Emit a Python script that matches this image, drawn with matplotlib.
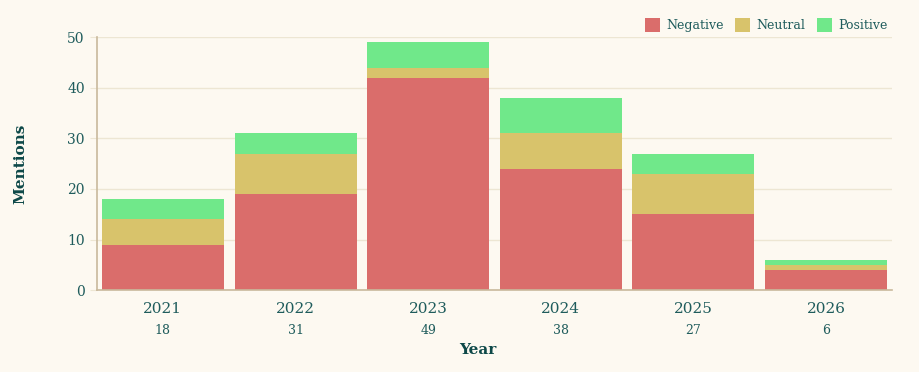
import matplotlib.pyplot as plt
import numpy as np

# Data
years = ['2021', '2022', '2023', '2024', '2025', '2026']
negative = [9, 19, 42, 24, 15, 4]
neutral = [5, 8, 2, 7, 8, 1]
positive = [4, 4, 5, 7, 4, 1]

bg = '#fdf9f1'
text_col = '#1f5c5c'
label_col = '#0d4848'
colors = ['#da6d6b', '#d8c36b', '#70e88a']

plt.rcParams['font.family'] = 'DejaVu Serif'

fig = plt.figure(figsize=(9.2, 3.72), dpi=100, facecolor=bg)
ax = fig.add_axes([0.105, 0.22, 0.865, 0.68], facecolor=bg)

x = np.arange(len(years))
neg = np.array(negative)
neu = np.array(neutral)
pos = np.array(positive)
totals = neg + neu + pos

width = 0.92
ax.bar(x, neg, width, color=colors[0], label='Negative', zorder=2)
ax.bar(x, neu, width, bottom=neg, color=colors[1], label='Neutral', zorder=2)
ax.bar(x, pos, width, bottom=neg + neu, color=colors[2], label='Positive', zorder=2)

ax.set_xlim(-0.5, len(years) - 0.5)
ax.set_ylim(0, 50)
ax.set_yticks(range(0, 51, 10))
ax.grid(axis='y', color='#ede6d3', linewidth=1, zorder=0)

for side in ['top', 'right']:
    ax.spines[side].set_visible(False)
for side in ['left', 'bottom']:
    ax.spines[side].set_color('#c9b99c')
    ax.spines[side].set_linewidth(1.2)

ax.tick_params(axis='y', colors=text_col, labelsize=10, length=5, color='#ede6d3')
ax.tick_params(axis='x', length=0, labelbottom=False)

# year labels and totals under each bar
for i, (yr, t) in enumerate(zip(years, totals)):
    ax.annotate(yr, (i, 0), xycoords=('data', 'axes fraction'), xytext=(0, -8.5),
                textcoords='offset points', ha='center', va='top', fontsize=11, color=text_col)
    ax.annotate(str(t), (i, 0), xycoords=('data', 'axes fraction'), xytext=(0, -24.5),
                textcoords='offset points', ha='center', va='top', fontsize=9, color=text_col)

fig.text(0.519, 0.06, 'Year', ha='center', va='center', fontsize=11,
         fontweight='bold', color=label_col)
fig.text(0.022, 0.56, 'Mentions', ha='center', va='center', rotation=90,
         fontsize=11, fontweight='bold', color=label_col)

leg = ax.legend(loc='lower right', bbox_to_anchor=(1.0, 1.0), ncol=3, frameon=False,
                fontsize=9, handlelength=1.2, handleheight=1.3, columnspacing=0.9,
                handletextpad=0.5, borderaxespad=0.0)
for t in leg.get_texts():
    t.set_color(text_col)

fig.savefig('out.png', dpi=100, facecolor=bg)
